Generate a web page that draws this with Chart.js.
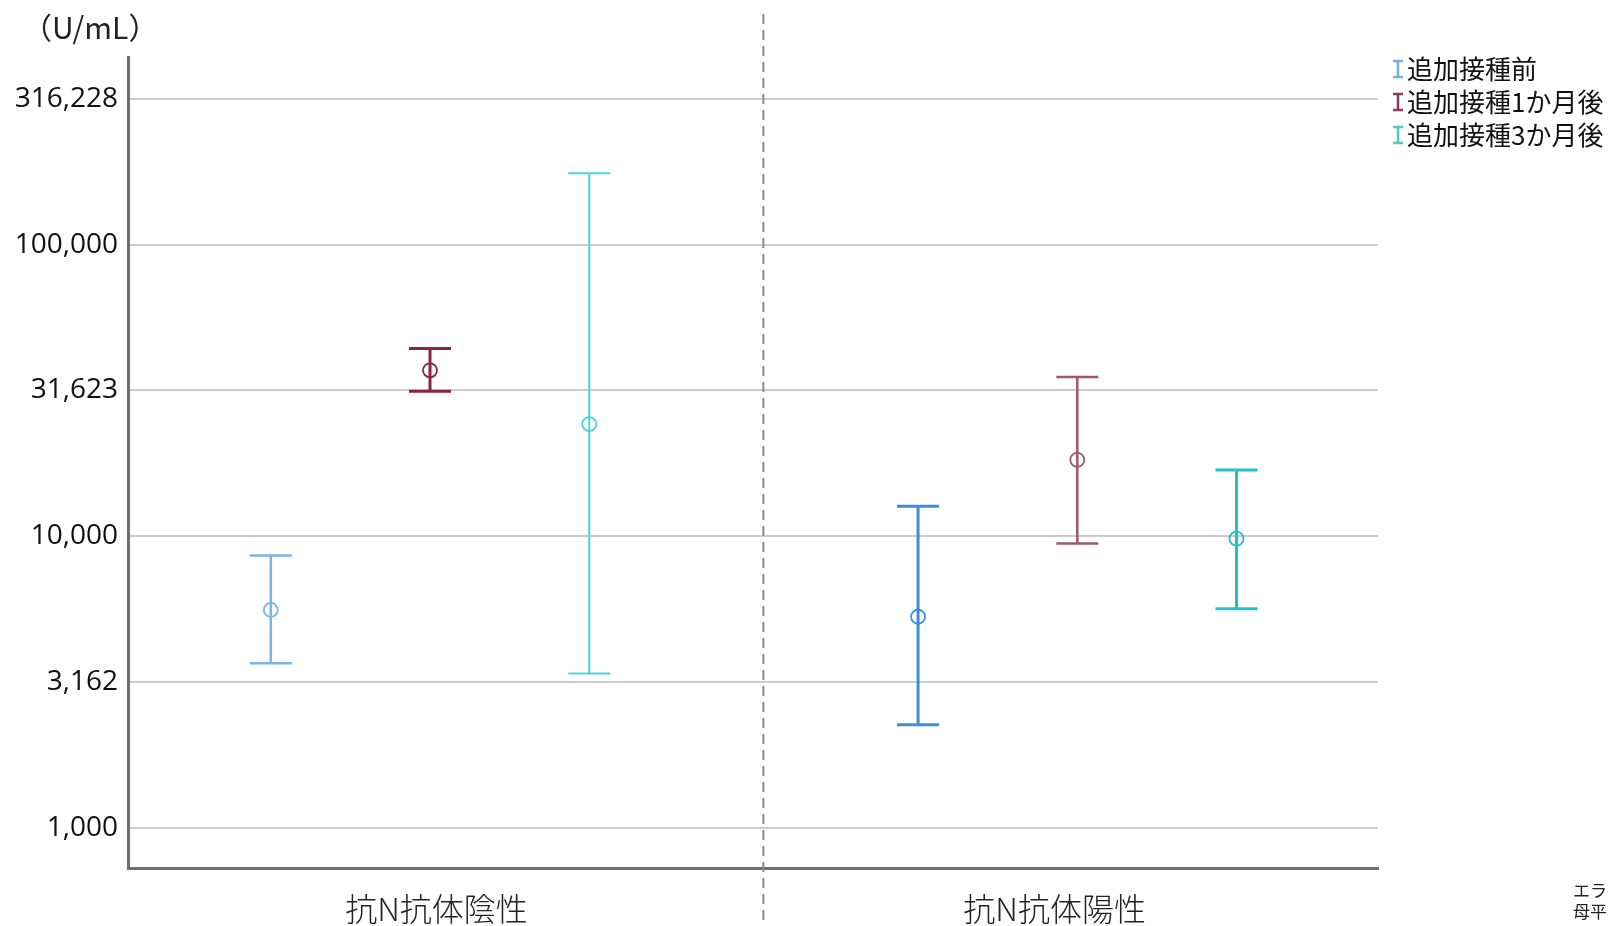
<!DOCTYPE html>
<html>
<head>
<meta charset="utf-8">
<script src="https://cdn.jsdelivr.net/npm/chart.js@4.4.1/dist/chart.umd.min.js"></script>
<style>
  body { margin: 0; background: #fff; }
  canvas { display: block; }
</style>
</head>
<body>
<canvas id="chart" width="1608" height="926"></canvas>
<script>
// data (U/mL), geometric mean with 95% CI, by antibody status
const categories = ['抗N抗体陰性', '抗N抗体陽性'];
const seriesNames = ['追加接種前', '追加接種1か月後', '追加接種3か月後'];
const yTicks = [1000, 3162, 10000, 31623, 100000, 316228];

const meanBefore = [5580, 5290];
const lowBefore = [3660, 2256];
const highBefore = [8580, 12650];

const mean1m = [37050, 18260];
const low1m = [31380, 9440];
const high1m = [44010, 35170];

const mean3m = [24230, 9800];
const low3m = [3380, 5630];
const high3m = [175800, 16870];

// look
const seriesOffset = [-0.246, 0, 0.246];
const dividerX = 0.515;
const labelPos = [0.01, 0.965];
const colors = [
    ['#78b4e4', '#3a8ede'],
    ['#8a2443', '#a0566f'],
    ['#4fd3d3', '#22c2c4']
];
const whiskerWidth = [[2.5, 3], [3, 2.5], [2, 3]];
const legendColors = ['#6fb3dc', '#8c3a5a', '#52c6c0'];

const means = [meanBefore, mean1m, mean3m];
const lows = [lowBefore, low1m, low3m];
const highs = [highBefore, high1m, high3m];

const datasets = seriesNames.map((name, s) => ({
    label: name,
    data: categories.map((c, g) => ({ x: g + seriesOffset[s], y: means[s][g] })),
    pointStyle: 'circle',
    pointRadius: 7,
    pointHoverRadius: 7,
    pointBorderWidth: 1.8,
    pointBackgroundColor: 'rgba(0,0,0,0)',
    pointBorderColor: colors[s]
}));

const errorBars = {
    id: 'errorBars',
    beforeDatasetsDraw(chart) {
        const { ctx, scales: { x, y } } = chart;
        ctx.save();
        seriesNames.forEach((name, s) => {
            categories.forEach((c, g) => {
                const px = x.getPixelForValue(g + seriesOffset[s]);
                const top = y.getPixelForValue(highs[s][g]);
                const bot = y.getPixelForValue(lows[s][g]);
                ctx.strokeStyle = colors[s][g];
                ctx.lineWidth = whiskerWidth[s][g];
                ctx.beginPath();
                ctx.moveTo(px, top);
                ctx.lineTo(px, bot);
                ctx.moveTo(px - 21, top);
                ctx.lineTo(px + 21, top);
                ctx.moveTo(px - 21, bot);
                ctx.lineTo(px + 21, bot);
                ctx.stroke();
            });
        });
        ctx.restore();
    }
};

const extras = {
    id: 'extras',
    afterDraw(chart) {
        const { ctx, chartArea, scales: { x } } = chart;
        ctx.save();
        // divider between groups
        const dx = x.getPixelForValue(dividerX);
        ctx.strokeStyle = '#8a8a8a';
        ctx.lineWidth = 2;
        ctx.setLineDash([10, 6]);
        ctx.beginPath();
        ctx.moveTo(dx, 14);
        ctx.lineTo(dx, chart.height);
        ctx.stroke();
        ctx.setLineDash([]);

        // category labels
        ctx.fillStyle = '#222';
        ctx.textBaseline = 'middle';
        ctx.textAlign = 'center';
        ctx.font = '300 32px "Noto Sans CJK JP"';
        categories.forEach((c, i) => {
            ctx.fillText(c, x.getPixelForValue(labelPos[i]), chartArea.bottom + 41);
        });

        // unit
        ctx.textAlign = 'left';
        ctx.font = '30px "Noto Sans CJK JP"';
        ctx.fillText('（U/mL）', 22, 28);

        // legend
        ctx.font = '26px "Noto Sans CJK JP"';
        seriesNames.forEach((name, i) => {
            const ly = 69 + i * 33;
            const ix = 1398;
            ctx.strokeStyle = legendColors[i];
            ctx.lineWidth = 2.5;
            ctx.beginPath();
            ctx.moveTo(ix, ly - 8);
            ctx.lineTo(ix, ly + 8);
            ctx.moveTo(ix - 5, ly - 8);
            ctx.lineTo(ix + 5, ly - 8);
            ctx.moveTo(ix - 5, ly + 8);
            ctx.lineTo(ix + 5, ly + 8);
            ctx.stroke();
            ctx.fillStyle = '#111';
            ctx.fillText(name, 1407, ly);
        });

        // footnote (cut off at the edge)
        ctx.fillStyle = '#222';
        ctx.font = '17px "Noto Sans CJK JP"';
        ctx.fillText('エラーバー: 95% 信頼区間', 1573, 891);
        ctx.fillText('母平均', 1573, 912);
        ctx.restore();
    }
};

new Chart(document.getElementById('chart'), {
    type: 'scatter',
    data: { datasets: datasets },
    options: {
        responsive: false,
        animation: false,
        devicePixelRatio: 1,
        layout: { padding: { top: 57, right: 230, bottom: 58, left: 0 } },
        plugins: {
            legend: { display: false },
            tooltip: { enabled: false }
        },
        scales: {
            x: {
                type: 'linear',
                min: -0.4666,
                max: 1.4646,
                ticks: { display: false },
                grid: { display: false, drawTicks: false },
                border: { display: true, color: '#6e6e6e', width: 3 }
            },
            y: {
                type: 'logarithmic',
                min: 727,
                max: 440000,
                afterBuildTicks: (scale) => {
                    scale.ticks = yTicks.map(v => ({ value: v }));
                },
                afterFit: (scale) => { scale.width = 128; },
                ticks: {
                    padding: 10,
                    color: '#111',
                    font: { family: '"Open Sans"', size: 28 },
                    callback: (v) => v.toLocaleString('en-US')
                },
                grid: { color: '#cccccc', lineWidth: 2, drawTicks: false },
                border: { color: '#6e6e6e', width: 3 }
            }
        }
    },
    plugins: [errorBars, extras]
});
</script>
</body>
</html>
